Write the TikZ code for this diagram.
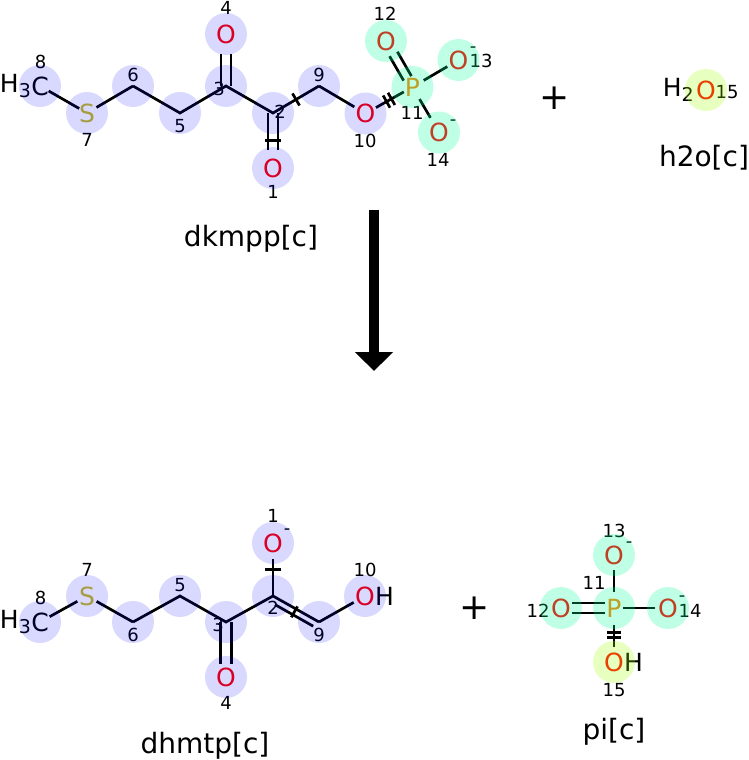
\documentclass[tikz,border=0pt]{standalone}
\usepackage{fontspec}
\setmainfont{DejaVu Sans}
\usetikzlibrary{calc,arrows.meta}
\definecolor{Ored}{RGB}{255,0,0}
\definecolor{Pcol}{RGB}{255,128,0}
\definecolor{Scol}{RGB}{195,185,30}
\definecolor{lavC}{RGB}{0,0,255}
\definecolor{grnC}{RGB}{0,255,150}
\definecolor{ylwC}{RGB}{160,255,0}
\newcommand\btick[3]{\draw[bond] ($(#1)!0.5!(#2)!#3!90:(#2)$) -- ($(#1)!0.5!(#2)!#3!-90:(#2)$);}
\newcommand\dbtick[3]{%
 \draw[bond] ($(#1)!0.5!(#2)!2.8pt!(#2)!#3!90:(#2)$) -- ($(#1)!0.5!(#2)!2.8pt!(#2)!#3!-90:(#2)$);
 \draw[bond] ($(#1)!0.5!(#2)!2.8pt!(#1)!#3!90:(#2)$) -- ($(#1)!0.5!(#2)!2.8pt!(#1)!#3!-90:(#2)$);}
\newcommand\dbond[5]{%
 \draw[bond, shorten <=#4, shorten >=#5] ($(#1)!#3!90:(#2)$) -- ($(#2)!#3!-90:(#1)$);
 \draw[bond, shorten <=#4, shorten >=#5] ($(#1)!#3!-90:(#2)$) -- ($(#2)!#3!90:(#1)$);}
\tikzset{
 atom/.style={inner sep=0pt, font=\fontsize{25}{25}\selectfont},
 num/.style={inner sep=0pt, font=\fontsize{18}{18}\selectfont},
 chg/.style={inner sep=0pt, font=\fontsize{18}{18}\selectfont},
 cname/.style={inner sep=0pt, font=\fontsize{28}{28}\selectfont},
 plussign/.style={inner sep=0pt, font=\fontsize{36}{36}\selectfont},
 bond/.style={line width=2.7pt, line cap=butt},
 hs/.style={shorten <=#1}, he/.style={shorten >=#1},
 lav/.style={fill=lavC, fill opacity=0.15},
 grn/.style={fill=grnC, fill opacity=0.25},
 ylw/.style={fill=ylwC, fill opacity=0.25},
}
\begin{document}
\begin{tikzpicture}[x=1pt,y=-1pt]
\useasboundingbox (0,0) rectangle (748,760);
% ---------- atom numbers
\node[num] (nt8) at (40.5,62) {8};
\node[num] (nt7) at (87,140) {7};
\node[num] (nt6) at (133,75) {6};
\node[num] (nt5) at (180,126) {5};
\node[num] (nt3) at (219,89) {3};
\node[num] (nt4) at (226,8) {4};
\node[num] (nt2) at (280,112) {2};
\node[num] (nt1) at (273,192) {1};
\node[num] (nt9) at (319,75) {9};
\node[num] (nt10) at (365,141) {10};
\node[num] (nt11) at (412,113) {11};
\node[num] (nt12) at (385,14) {12};
\node[num] (nt13) at (481,61) {13};
\node[num] (nt14) at (438,160) {14};
\node[num] (nw15) at (727,92) {15};
\node[num] (nb8) at (40.5,598) {8};
\node[num] (nb7) at (87,570) {7};
\node[num] (nb6) at (133,635) {6};
\node[num] (nb5) at (180,585) {5};
\node[num] (nb3) at (218,625) {3};
\node[num] (nb4) at (226,703) {4};
\node[num] (nb2) at (273,608) {2};
\node[num] (nb1) at (273,516) {1};
\node[num] (nb9) at (319,635) {9};
\node[num] (nb10) at (365,570) {10};
\node[num] (np13) at (614,531) {13};
\node[num] (np11) at (594,583) {11};
\node[num] (np12) at (538,611) {12};
\node[num] (np14) at (690,611) {14};
\node[num] (np15) at (614,690) {15};
% ---------- top: dkmpp
\node[atom] (t8) at (40,86) {C};
\node[atom, anchor=east] (t8h) at (t8.west) {H\raisebox{-5pt}{\fontsize{19}{19}\selectfont 3}};
\node[atom, text=Scol] (t7) at (87,113) {S};
\coordinate (t6) at (133,86);
\coordinate (t5) at (180,113);
\coordinate (t3) at (226,86);
\node[atom, text=Ored] (t4) at (226,34) {O};
\coordinate (t2) at (273,113);
\node[atom, text=Ored] (t1) at (273,168) {O};
\coordinate (t9) at (319,86);
\node[atom, text=Ored] (t10) at (365.5,113.5) {O};
\node[atom, text=Pcol] (t11) at (412.5,87) {P};
\node[atom, text=Ored] (t12) at (386,41) {O};
\node[atom, text=Ored] (t13) at (458.5,60) {O};
\node[atom, text=Ored] (t14) at (439,132.5) {O};
\node[chg] (t13c) at (473,50) {-};
\node[chg] (t14c) at (453,123) {-};
% ---------- water
\node[atom, text=Ored] (w15) at (706,90) {O};
\node[atom, anchor=east] (wh) at ([xshift=-2pt]w15.west) {H\raisebox{-5pt}{\fontsize{19}{19}\selectfont 2}};
% ---------- bottom: dhmtp
\node[atom] (b8) at (40,622) {C};
\node[atom, anchor=east] (b8h) at (b8.west) {H\raisebox{-5pt}{\fontsize{19}{19}\selectfont 3}};
\node[atom, text=Scol] (b7) at (87,596) {S};
\coordinate (b6) at (133,622);
\coordinate (b5) at (180,596);
\coordinate (b3) at (226,622);
\node[atom, text=Ored] (b4) at (226,677) {O};
\coordinate (b2) at (273,596);
\node[atom, text=Ored] (b1) at (273,543) {O};
\coordinate (b9) at (319,622);
\node[atom, text=Ored] (b10) at (365,596) {O};
\node[atom, anchor=west] (b10h) at (b10.east) {H};
\node[chg] (b1c) at (287,532) {-};
% ---------- pi
\node[atom, text=Pcol] (p11) at (614,608) {P};
\node[atom, text=Ored] (p13) at (614,555) {O};
\node[atom, text=Ored] (p12) at (561,608) {O};
\node[atom, text=Ored] (p14) at (668,608) {O};
\node[atom, text=Ored] (p15) at (614,662) {O};
\node[atom, anchor=west] (p15h) at (p15.east) {H};
\node[chg] (p13c) at (629,545) {-};
\node[chg] (p14c) at (682,599) {-};
% ---------- names and signs
\node[cname] (lab1) at (251,239) {dkmpp[c]};
\node[cname] (lab2) at (704,158) {h2o[c]};
\node[cname] (lab3) at (205,746) {dhmtp[c]};
\node[cname] (lab4) at (614,732) {pi[c]};
\node[plussign] (plus1) at (555,98) {+};
\node[plussign] (plus2) at (475,608) {+};
% ---------- arrow
\coordinate (arrS) at (374,210);
\coordinate (arrE) at (374,371);
\draw[line width=10pt, -{Triangle[length=19pt,width=37pt]}] (arrS) -- (arrE);
% ---------- bonds top
\draw[bond, hs=10pt, he=9pt] (t8.center) -- (t7.center);
\draw[bond, hs=11pt] (t7.center) -- (t6);
\draw[bond] (t6) -- (t5) -- (t3) -- (t2) -- (t9);
\dbond{t3}{t4.center}{5pt}{0pt}{20pt}
\dbond{t2}{t1.center}{5pt}{0pt}{18pt}
\btick{t2}{t1.center}{8pt}
\btick{t2}{t9}{7pt}
\draw[bond, he=13pt] (t9) -- (t10.center);
\draw[bond, hs=12pt, he=10pt] (t10.center) -- (t11.center);
\dbtick{t10.center}{t11.center}{7pt}
\dbond{t11.center}{t12.center}{4.5pt}{10pt}{15pt}
\draw[bond, hs=13pt, he=13pt] (t11.center) -- (t13.center);
\draw[bond, hs=14pt, he=17pt] (t11.center) -- (t14.center);
% ---------- bonds bottom
\draw[bond, hs=11pt, he=11pt] (b8.center) -- (b7.center);
\draw[bond, hs=11pt] (b7.center) -- (b6);
\draw[bond] (b6) -- (b5) -- (b3) -- (b2) -- (b9);
\dbond{b3}{b4.center}{5.5pt}{0pt}{13pt}
\draw[bond, he=16pt] (b2) -- (b1.center);
\btick{b2}{b1.center}{8pt}
\coordinate (b2o) at ($(b2)!6.5pt!-90:(b9)$);
\coordinate (b9o) at ($(b9)!6.5pt!90:(b2)$);
\draw[bond, hs=6pt, he=3pt] (b2o) -- (b9o);
\draw[bond] ($(b2)!0.5!(b9)!3pt!90:(b9)$) -- ($(b2)!0.5!(b9)!9.5pt!-90:(b9)$);
\draw[bond, he=13pt] (b9) -- (b10.center);
% ---------- bonds pi
\draw[bond, hs=16pt, he=15pt] (p11.center) -- (p13.center);
\dbond{p11.center}{p12.center}{5pt}{9pt}{11pt}
\draw[bond, hs=9pt, he=13pt] (p11.center) -- (p14.center);
\draw[bond, hs=17pt, he=15pt] (p11.center) -- (p15.center);
\dbtick{p11.center}{p15.center}{7pt}
% ---------- highlight circles
\foreach \a in {t8,t7,t6,t5,t3,t4,t2,t1,t9,t10,b8,b7,b6,b5,b3,b4,b2,b1,b9,b10}
  \fill[lav] (\a.center) circle (21pt);
\foreach \a in {t11,t12,t13,t14,p11,p12,p13,p14}
  \fill[grn] (\a.center) circle (21pt);
\foreach \a in {w15,p15}
  \fill[ylw] (\a.center) circle (21pt);
\end{tikzpicture}
\end{document}
